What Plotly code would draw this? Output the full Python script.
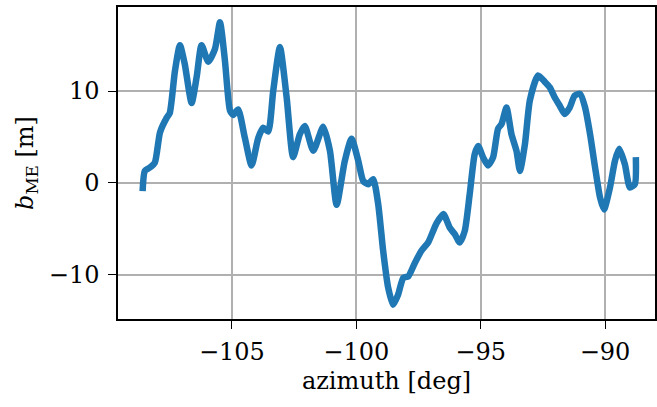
import plotly.graph_objects as go

azimuth = [-108.59, -108.5, -108.3, -108.1, -107.89, -107.62, -107.5, -107.29, -107.09, -106.9,
           -106.62, -106.42, -106.22, -105.95, -105.68, -105.48, -105.28, -105.08, -104.95, -104.75,
           -104.48, -104.21, -103.94, -103.74, -103.54, -103.34, -103.07, -102.8, -102.54, -102.27,
           -102.07, -101.73, -101.33, -101.06, -100.79, -100.46, -100.19, -99.92, -99.72, -99.52,
           -99.32, -99.12, -98.92, -98.72, -98.52, -98.32, -98.11, -97.91, -97.64, -97.38,
           -97.11, -96.91, -96.77, -96.5, -96.24, -96.04, -95.84, -95.64, -95.44, -95.24,
           -95.1, -94.9, -94.7, -94.5, -94.3, -94.16, -93.96, -93.76, -93.56, -93.42,
           -93.22, -93.02, -92.69, -92.42, -92.22, -92.02, -91.82, -91.62, -91.42, -91.22,
           -91.0, -90.8, -90.6, -90.4, -90.2, -90.04, -89.8, -89.6, -89.43, -89.2,
           -89.0, -88.8, -88.76]
b_me = [-0.9, 1.3, 1.67, 2.2, 5.5, 7.1, 7.6, 12.2, 15.0, 13.0,
        8.7, 11.5, 15.0, 13.2, 14.6, 17.5, 13.3, 7.9, 7.4, 8.0,
        4.9, 1.9, 4.9, 6.0, 5.6, 10.0, 14.8, 9.3, 2.8, 5.3,
        6.2, 3.5, 6.1, 3.5, -2.4, 2.4, 4.8, 2.4, 0.2, -0.15,
        0.4, -2.3, -7.4, -11.4, -13.3, -12.2, -10.35, -10.2, -8.7, -7.4,
        -6.5, -5.25, -4.4, -3.4, -4.9, -5.6, -6.5, -5.25, -1.24, 3.1,
        4.0, 2.77, 1.9, 2.77, 5.9, 6.4, 8.2, 5.3, 3.5, 1.3,
        4.2, 9.0, 11.7, 11.0, 10.4, 9.3, 8.4, 7.5, 8.2, 9.5,
        9.7, 8.2, 5.3, 1.7, -1.6, -2.9, -0.5, 2.4, 3.7, 2.0,
        -0.5, -0.15, 2.8]

x_ticks = [-105, -100, -95, -90]
y_ticks = [-10, 0, 10]

font_family = "DejaVu Serif"
fsize = 24

fig = go.Figure()
fig.add_trace(go.Scatter(
    x=azimuth, y=b_me, mode="lines",
    line=dict(color="#1f77b4", width=6.5, shape="spline", smoothing=0.6),
    showlegend=False,
))

axis_common = dict(
    showline=True, linecolor="black", linewidth=1.5, mirror=True,
    showgrid=True, gridcolor="#b0b0b0", gridwidth=1.5,
    ticks="outside", ticklen=8, tickwidth=1.3, tickcolor="black",
    zeroline=False, automargin=False,
    tickfont=dict(family=font_family, size=fsize, color="black"),
)

fig.update_layout(
    width=657, height=407,
    margin=dict(l=118, r=2, t=7, b=88),
    paper_bgcolor="white", plot_bgcolor="white",
    font=dict(family=font_family, size=fsize, color="black"),
    xaxis=dict(range=[-109.58, -87.99], tickvals=x_ticks, ticklabelstandoff=2,
               title=dict(text="azimuth [deg]", font=dict(family=font_family, size=fsize), standoff=8),
               **axis_common),
    yaxis=dict(range=[-14.84, 19.16], tickvals=y_ticks, ticklabelstandoff=4,
               title=dict(text="<i>b</i><sub>ME</sub> [m]", font=dict(family=font_family, size=fsize), standoff=8),
               **axis_common),
)

fig.write_html("out.html", config={"displayModeBar": False},
               post_script="document.body.style.margin='0';document.body.style.overflow='hidden';")
